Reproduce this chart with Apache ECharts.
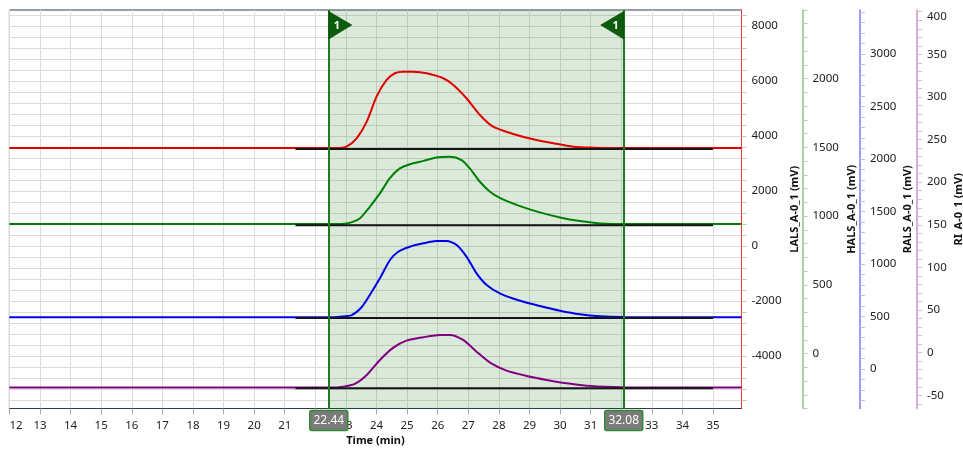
<!DOCTYPE html>
<html><head><meta charset="utf-8">
<script src="https://cdn.jsdelivr.net/npm/echarts@6/dist/echarts.min.js"></script>
<style>html,body{margin:0;padding:0;background:#fff}#c{width:963px;height:454px}</style>
</head><body><div id="c"></div>
<script>
// ---- data ----
const timeTicks = [12,13,14,15,16,17,18,19,20,21,22,23,24,25,26,27,28,29,30,31,32,33,34,35];
const integrationBounds = [22.44, 32.08];
const baselineRange = [21.35, 35.0];

const redT = [12, 22.5, 22.80, 23.02, 23.35, 23.68, 24.00, 24.33, 24.60, 24.87, 25.20, 25.64, 26.18, 26.51, 26.94, 27.38, 27.81, 28.47, 29.12, 29.78, 30.43, 31.08, 31.74, 32.5, 35.93];
const redV = [3560, 3560, 3565, 3611, 3916, 4520, 5429, 6036, 6280, 6338, 6338, 6280, 6098, 5854, 5371, 4764, 4338, 4073, 3880, 3735, 3611, 3574, 3560, 3560, 3560];

const greenT = [12, 22.5, 23.02, 23.45, 23.78, 24.11, 24.43, 24.76, 25.09, 25.53, 25.96, 26.40, 26.78, 27.05, 27.38, 27.71, 28.03, 28.69, 29.34, 30.00, 30.65, 31.30, 32.28, 35.93];
const greenV = [942, 942, 947, 983, 1068, 1165, 1274, 1347, 1378, 1402, 1427, 1432, 1408, 1347, 1250, 1177, 1133, 1073, 1027, 990, 964, 947, 942, 942];

const blueT = [12, 22.5, 22.80, 23.19, 23.51, 23.78, 24.11, 24.44, 24.71, 25.09, 25.53, 25.96, 26.29, 26.62, 26.94, 27.27, 27.60, 28.03, 28.69, 29.34, 30.00, 30.65, 31.30, 32.06, 35.93];
const blueV = [492, 492, 498, 514, 588, 705, 864, 1038, 1117, 1165, 1197, 1219, 1219, 1181, 1070, 911, 800, 721, 650, 600, 555, 521, 502, 495, 492];

const purpleT = [12, 22.5, 22.91, 23.29, 23.68, 24.11, 24.55, 24.98, 25.53, 26.07, 26.40, 26.83, 27.27, 27.71, 28.25, 28.91, 29.56, 30.21, 30.87, 31.74, 32.5, 35.93];
const purpleV = [-41, -41, -39.9, -36.7, -26.2, -8.6, 5.9, 14.1, 18.1, 20.8, 20.8, 14.9, 1.2, -11.7, -21.1, -27.3, -32.0, -35.9, -38.7, -40.3, -41, -41];

const baselineLevels = [3530, 934, 486, -41.8];

const axisNames = ['LALS_A-0_1 (mV)', 'HALS_A-0_1 (mV)', 'RALS_A-0_1 (mV)', 'RI_A-0_1 (mV)'];
const axisRanges = [[-5910, 8580], [-400, 2500], [-376, 3419], [-65.5, 402]];
const labelValues = [
  [-4000, -2000, 0, 2000, 4000, 6000, 8000],
  [0, 500, 1000, 1500, 2000],
  [0, 500, 1000, 1500, 2000, 2500, 3000],
  [-50, 0, 50, 100, 150, 200, 250, 300, 350, 400]
];
const tickSteps = [400, 100, 100, 10];

// ---- build ----
function range(a, b, s){ const r=[]; for(let v=Math.ceil(a/s)*s; v<=b+1e-9; v+=s) r.push(+v.toFixed(6)); return r; }
function zip(t, v){ return t.map((x,i)=>[x, v[i]]); }

const FONT = '"Noto Sans", sans-serif';
const colors = ['#e00000', '#008000', '#0000e6', '#800080'];
const axisLineColors = ['#ff3030', '#90c890', '#8080ff', '#cc99cc'];
const offsets = [0, 61, 118.5, 175.5];
const nameGaps = [47.5, 43.5, 42.5, 36];

const yAxes = axisNames.map((nm, i) => {
  const top = labelValues[i][labelValues[i].length - 1];
  const nearTop = (axisRanges[i][1] - top) / (axisRanges[i][1] - axisRanges[i][0]) < 0.02;
  return {
    type: 'value', position: 'right', offset: offsets[i],
    min: axisRanges[i][0], max: axisRanges[i][1],
    name: nm, nameLocation: 'middle', nameGap: nameGaps[i], nameMoveOverlap: false,
    nameTextStyle: {fontFamily: FONT, fontWeight: 'bold', fontSize: 11, color: '#111'},
    axisLine: {show: true, onZero: false, lineStyle: {color: axisLineColors[i], width: i === 0 ? 1 : 1.6}},
    axisTick: {show: true, length: 5, customValues: range(axisRanges[i][0], axisRanges[i][1], tickSteps[i]), lineStyle: {color: '#c4c4c4'}},
    axisLabel: {customValues: labelValues[i], margin: 10, fontFamily: FONT, fontSize: 11.5, color: '#222',
      formatter: v => (nearTop && v === top) ? '{d|' + v + '}' : String(v),
      rich: {d: {padding: [11, 0, 0, 0], fontFamily: FONT, fontSize: 11.5, color: '#222'}}},
    splitLine: {show: i === 0, lineStyle: {color: '#dcdcdc', width: 1}}
  };
});

const traces = [[redT, redV], [greenT, greenV], [blueT, blueV], [purpleT, purpleV]];
const series = [];
traces.forEach((tr, i) => {
  const s = {
    type: 'line', yAxisIndex: i, data: zip(tr[0], tr[1]), smooth: 0.25,
    symbol: 'none', lineStyle: {color: colors[i], width: 2}, z: 3, silent: true
  };
  if (i === 0) {
    s.markArea = {silent: true, itemStyle: {color: 'rgba(0,100,0,0.14)'},
      data: [[{xAxis: integrationBounds[0]}, {xAxis: integrationBounds[1]}]]};
  }
  series.push(s);
});
baselineLevels.forEach((b, i) => {
  series.push({type: 'line', yAxisIndex: i, data: [[baselineRange[0], b], [baselineRange[1], b]],
    symbol: 'none', lineStyle: {color: '#151515', width: 2}, z: 4, silent: true});
});
series.push({type: 'line', yAxisIndex: 0, data: [], symbol: 'none', silent: true,
  markLine: {silent: true, symbol: 'none', label: {show: false},
    lineStyle: {color: '#1f7a1f', width: 2, type: 'solid'},
    data: integrationBounds.map(v => ({xAxis: v}))}, z: 5});
series.push({
  type: 'custom', yAxisIndex: 0, z: 10, silent: true, clip: false,
  data: [[integrationBounds[0], 1], [integrationBounds[1], -1]],
  encode: {x: 0, y: 1},
  renderItem: function (params, api) {
    const t = api.value(0), dir = api.value(1);
    const cs = params.coordSys;
    const x = api.coord([t, 0])[0];
    const top = cs.y, bot = cs.y + cs.height;
    return {type: 'group', children: [
      {type: 'polygon', shape: {points: [[x, top + 1.5], [x + dir * 23, top + 15], [x, top + 29]]},
        style: {fill: '#0b5d0b', stroke: '#063f06', lineWidth: 0.6}},
      {type: 'text', x: x + dir * 8, y: top + 15.5,
        style: {text: '1', fill: '#fff', font: 'bold 11px ' + FONT, align: 'center', verticalAlign: 'middle'}},
      {type: 'rect', shape: {x: x - 19, y: bot + 2, width: 38, height: 20, r: 2},
        style: {fill: '#7b7b7b', stroke: '#2e8b2e', lineWidth: 1.5}},
      {type: 'text', x: x, y: bot + 12,
        style: {text: t.toFixed(2), fill: '#fff', font: '12px ' + FONT, align: 'center', verticalAlign: 'middle'}}
    ]};
  }
});

const chart = echarts.init(document.getElementById('c'), null, {renderer: 'canvas'});
chart.setOption({
  animation: false,
  backgroundColor: '#fff',
  grid: {left: 9.4, right: 221.5, top: 10, bottom: 45.5, show: true, borderColor: '#2e3e50', borderWidth: 1, backgroundColor: '#fff',
    containLabel: false, outerBoundsMode: 'none'},
  xAxis: {
    type: 'value', min: 12, max: 35.93,
    name: 'Time (min)', nameLocation: 'middle', nameGap: 27, nameMoveOverlap: false,
    nameTextStyle: {fontFamily: FONT, fontWeight: 'bold', fontSize: 11, color: '#111'},
    axisLine: {show: true, onZero: false, lineStyle: {color: '#2e3e50', width: 1}},
    axisTick: {show: true, length: 6, customValues: timeTicks, lineStyle: {color: '#aaaaaa'}},
    axisLabel: {customValues: timeTicks, margin: 11, fontFamily: FONT, fontSize: 11.5, color: '#222', alignMinLabel: 'left', formatter: v => String(v)},
    splitLine: {show: true, lineStyle: {color: '#dcdcdc', width: 1}}
  },
  yAxis: yAxes,
  series: series
});
</script></body></html>
